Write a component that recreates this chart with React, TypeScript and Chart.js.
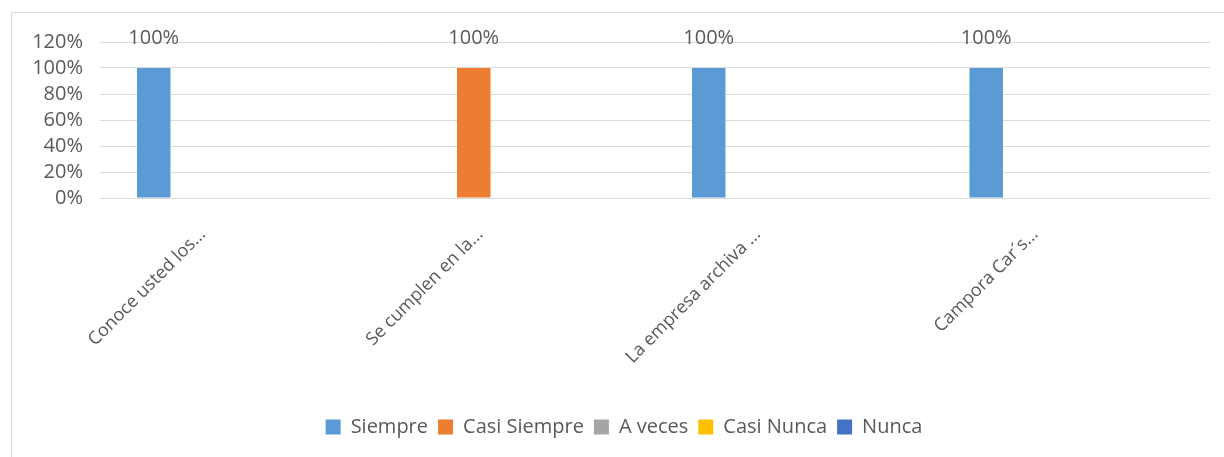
import React, { useEffect, useRef } from "react";
import { Chart, registerables } from "chart.js";

Chart.register(...registerables);

const categories = [
  "Conoce usted los...",
  "Se cumplen en la...",
  "La empresa archiva ...",
  "Campora Car´s...",
];
const seriesNames = ["Siempre", "Casi Siempre", "A veces", "Casi Nunca", "Nunca"];
const siempre = [100, null, 100, 100];
const casiSiempre = [null, 100, null, null];
const aVeces = [null, null, null, null];
const casiNunca = [null, null, null, null];
const nunca = [null, null, null, null];
const seriesColors = ["#5B9BD5", "#ED7D31", "#A5A5A5", "#FFC000", "#4472C4"];
const yTicks = { min: 0, max: 120, step: 20 };

const TEXT = "#595959";
const FONT = "'Open Sans', sans-serif";

const valueLabels = {
  id: "valueLabels",
  afterDatasetsDraw(chart: any) {
    const ctx = chart.ctx;
    ctx.save();
    ctx.font = `20px ${FONT}`;
    ctx.fillStyle = TEXT;
    ctx.textAlign = "center";
    ctx.textBaseline = "middle";
    chart.data.datasets.forEach((ds: any, i: number) => {
      const meta = chart.getDatasetMeta(i);
      meta.data.forEach((el: any, j: number) => {
        const v = ds.data[j];
        if (v === null || v === undefined) return;
        ctx.fillText(`${v}%`, el.x, el.y - 30);
      });
    });
    ctx.restore();
  },
};

// nudge the legend row slightly right, as in the original
const legendShift = {
  id: "legendShift",
  afterLayout(chart: any) {
    if (chart.legend) {
      chart.legend.left += 13;
      chart.legend.right += 13;
    }
  },
};

export default function App() {
  const ref = useRef<HTMLCanvasElement>(null);
  useEffect(() => {
    if (!ref.current) return;
    const allSeries = [siempre, casiSiempre, aVeces, casiNunca, nunca];
    const chart = new Chart(ref.current, {
      type: "bar",
      data: {
        labels: categories,
        datasets: seriesNames.map((name, i) => ({
          label: name,
          data: allSeries[i],
          backgroundColor: seriesColors[i],
          borderWidth: 0,
          categoryPercentage: 0.766,
          barPercentage: 0.788,
        })),
      },
      options: {
        animation: false,
        responsive: false,
        devicePixelRatio: 1,
        layout: { padding: { top: 29, right: 14, bottom: 10, left: 0 } },
        plugins: {
          legend: {
            position: "bottom",
            labels: {
              boxWidth: 15,
              boxHeight: 15,
              padding: 10,
              color: TEXT,
              font: { family: FONT, size: 20 },
            },
          },
          tooltip: { enabled: false },
          title: { display: false },
        },
        scales: {
          x: {
            grid: { display: false },
            border: { display: false },
            ticks: {
              color: TEXT,
              font: { family: FONT, size: 18 },
              maxRotation: 45,
              minRotation: 45,
              padding: 18,
              labelOffset: -36,
              autoSkip: false,
            },
            afterFit(scale: any) {
              scale.height = 209;
            },
          },
          y: {
            min: yTicks.min,
            max: yTicks.max,
            grid: { color: "#D9D9D9", lineWidth: 1, drawTicks: false },
            border: { display: false },
            ticks: {
              stepSize: yTicks.step,
              autoSkip: false,
              color: TEXT,
              font: { family: FONT, size: 20 },
              padding: 17,
              callback: (v: any) => `${v}%`,
            },
            afterFit(scale: any) {
              scale.width = 88;
            },
          },
        },
      },
      plugins: [valueLabels, legendShift],
    });
    return () => chart.destroy();
  }, []);

  return (
    <div
      style={{
        position: "absolute",
        left: 11,
        top: 12,
        width: 1213,
        height: 445,
        boxSizing: "border-box",
        borderLeft: "1px solid #D9D9D9",
        borderTop: "1px solid #D9D9D9",
        background: "#fff",
      }}
    >
      <canvas ref={ref} width={1212} height={444} style={{ display: "block" }} />
    </div>
  );
}
